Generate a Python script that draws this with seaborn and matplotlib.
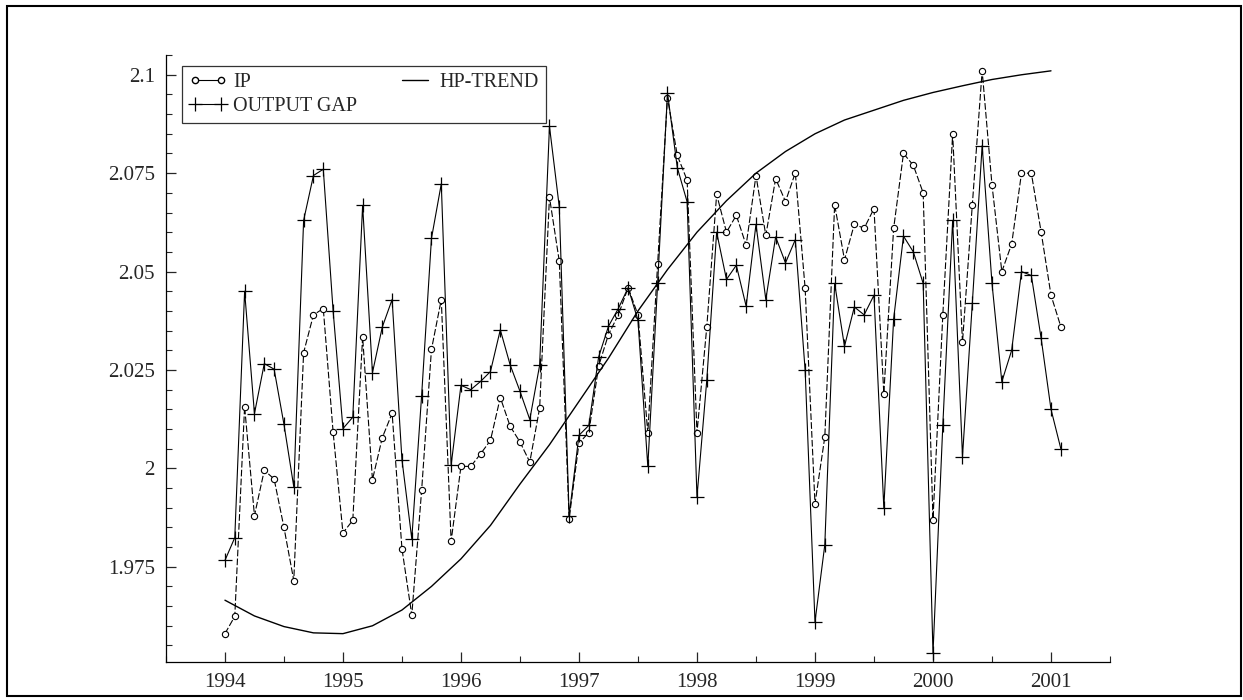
import matplotlib
matplotlib.use("Agg")
import matplotlib.pyplot as plt
import numpy as np
import seaborn as sns
from matplotlib.patches import Rectangle
from matplotlib.lines import Line2D
from matplotlib.ticker import MultipleLocator

# monthly data, 1994:01 .. 2001:02
months = list(range(86))
ip = [1.958, 1.9624, 2.0157, 1.988, 1.9995, 1.9973, 1.985, 1.9715, 2.0294, 2.039,
      2.0406, 2.0092, 1.9836, 1.9868, 2.0334, 1.9971, 2.0078, 2.014, 1.9796, 1.9627,
      1.9944, 2.0302, 2.0429, 1.9815, 2.0005, 2.0005, 2.0037, 2.0071, 2.018, 2.0107,
      2.0067, 2.0016, 2.0153, 2.0689, 2.0526, 1.9872, 2.0064, 2.0091, 2.026, 2.034,
      2.039, 2.0459, 2.039, 2.009, 2.052, 2.0942, 2.0795, 2.0732, 2.009, 2.036,
      2.0696, 2.060, 2.0643, 2.0567, 2.0744, 2.0592, 2.0736, 2.0678, 2.0751, 2.0457,
      1.991, 2.008, 2.067, 2.053, 2.062, 2.061, 2.066, 2.019, 2.061, 2.080,
      2.077, 2.070, 1.987, 2.039, 2.085, 2.032, 2.067, 2.101, 2.072, 2.050,
      2.057, 2.075, 2.075, 2.060, 2.044, 2.036]
gap = [1.9766, 1.9824, 2.045, 2.0139, 2.0266, 2.0252, 2.0112, 1.9953, 2.063, 2.0744,
       2.076, 2.040, 2.0101, 2.013, 2.0668, 2.0243, 2.0359, 2.0429, 2.0022, 1.9821,
       2.0185, 2.0584, 2.0723, 2.0008, 2.0211, 2.020, 2.0221, 2.0246, 2.0352, 2.0263,
       2.0196, 2.0124, 2.0262, 2.0869, 2.0664, 1.988, 2.0084, 2.0109, 2.0283, 2.0361,
       2.0406, 2.0459, 2.0376, 2.0005, 2.047, 2.0954, 2.0764, 2.0677, 1.9927, 2.0225,
       2.060, 2.048, 2.0516, 2.0412, 2.062, 2.0429, 2.0588, 2.0522, 2.0581, 2.0249,
       1.961, 1.9806, 2.047, 2.031, 2.041, 2.039, 2.044, 1.990, 2.038, 2.059,
       2.055, 2.047, 1.953, 2.011, 2.063, 2.003, 2.042, 2.082, 2.047, 2.022,
       2.030, 2.050, 2.049, 2.033, 2.015, 2.005]

# HP trend read every quarter
trend_months = [0, 3, 6, 9, 12, 15, 18, 21, 24, 27, 30, 33, 36, 39, 42,
                45, 48, 51, 54, 57, 60, 63, 66, 69, 72, 75, 78, 81, 84]
trend = [1.9665, 1.9625, 1.9598, 1.9582, 1.958, 1.960, 1.964, 1.970, 1.977, 1.9855,
         1.996, 2.006, 2.017, 2.028, 2.040, 2.0505, 2.060, 2.068, 2.075, 2.0805,
         2.085, 2.0885, 2.091, 2.0935, 2.0955, 2.0972, 2.0988, 2.100, 2.101]

year_ticks = [1994, 1995, 1996, 1997, 1998, 1999, 2000, 2001]
y_ticks = [1.975, 2.0, 2.025, 2.05, 2.075, 2.1]
y_labels = ["1.975", "2", "2.025", "2.05", "2.075", "2.1"]

t = [1994 + m / 12 for m in months]
t_trend = [1994 + m / 12 for m in trend_months]

sns.set_style("ticks")
plt.rcParams["font.family"] = ["Liberation Serif", "DejaVu Serif"]

fig = plt.figure(figsize=(12.43, 7.0), dpi=100)
ax = fig.add_axes([0.1335, 0.0543, 0.7595, 0.867])

# IP drawn with long dashes like the scanned original
sns.lineplot(x=t, y=ip, ax=ax, color="black", lw=0.8, marker="o", ms=4.5,
             mfc="white", mec="black", mew=0.8, dashes=False, linestyle=(0, (6, 2)),
             estimator=None, sort=False)
sns.lineplot(x=t_trend, y=trend, ax=ax, color="black", lw=1.0,
             estimator=None, sort=False)
sns.lineplot(x=t, y=gap, ax=ax, color="black", lw=0.8, marker="+", ms=10,
             mec="black", mew=0.9, estimator=None, sort=False)

ax.set_xlim(1993.5, 2001.5)
ax.set_ylim(1.9508, 2.105)
ax.set_xticks(year_ticks)
ax.set_xticklabels([str(y) for y in year_ticks], fontsize=15)
ax.set_yticks(y_ticks)
ax.set_yticklabels(y_labels, fontsize=15)
ax.xaxis.set_minor_locator(MultipleLocator(0.5))
ax.yaxis.set_minor_locator(MultipleLocator(0.005))
ax.tick_params(which="major", direction="in", length=7, width=0.9, pad=8)
ax.tick_params(which="minor", direction="in", length=4, width=0.8)
ax.set_xlabel("")
ax.set_ylabel("")
sns.despine(ax=ax)
for s in ["left", "bottom"]:
    ax.spines[s].set_linewidth(0.9)
    ax.spines[s].set_color("black")

# legend entries: IP / OUTPUT GAP in first column, HP-TREND in second
h_ip = Line2D([], [], color="black", lw=0.8, marker="o", ms=4.5, mfc="white", mec="black")
h_gap = Line2D([], [], color="black", lw=0.8, marker="+", ms=10, mec="black", mew=0.9)
h_tr = Line2D([], [], color="black", lw=1.0)
leg = ax.legend([h_ip, h_gap, h_tr], ["IP", "OUTPUT GAP", "HP-TREND"],
                ncol=2, loc="upper left", bbox_to_anchor=(0.017, 0.982),
                borderaxespad=0, fontsize=14.5, frameon=True, fancybox=False,
                numpoints=2, handlelength=1.9, handletextpad=0.3,
                columnspacing=1.9, labelspacing=0.25, borderpad=0.35)
leg.get_frame().set_edgecolor("black")
leg.get_frame().set_linewidth(0.9)

fig.patches.append(Rectangle((0.006, 0.006), 0.992, 0.985, transform=fig.transFigure,
                             fill=False, edgecolor="black", lw=1.5))

fig.savefig("out.png", dpi=100)
